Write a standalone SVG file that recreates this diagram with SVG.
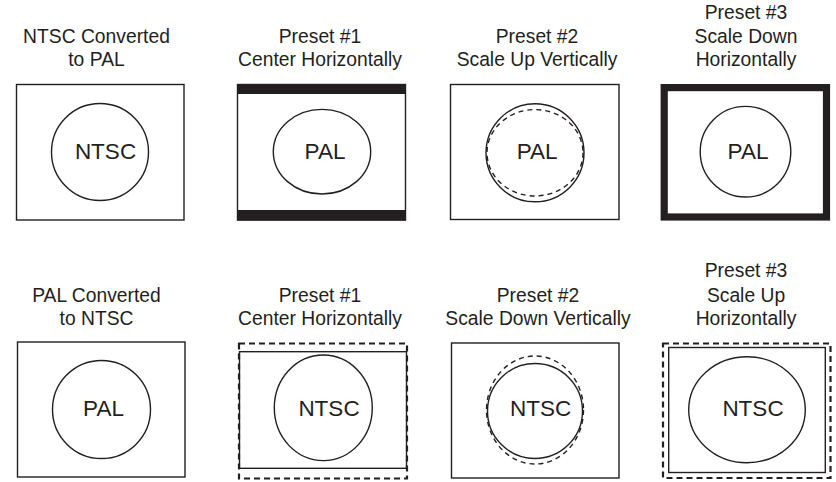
<svg xmlns="http://www.w3.org/2000/svg" width="836" height="482" viewBox="0 0 836 482">
<style>
.t{font-family:"Liberation Sans",Arial,Helvetica,sans-serif;font-size:19.3px;fill:#231f20;text-anchor:middle}
.l{font-family:"Liberation Sans",Arial,Helvetica,sans-serif;font-size:22.5px;fill:#231f20;text-anchor:middle}
.s{fill:none;stroke:#231f20;stroke-width:1.4}
.d{fill:none;stroke:#231f20;stroke-width:1.4;stroke-dasharray:5 4}
.dd{fill:none;stroke:#231f20;stroke-width:2.2;stroke-dasharray:6 4}
.bar{fill:#231f20}
</style>
<rect width="836" height="482" fill="#fff"/>
<g id="ntsc-to-pal">
<text class="t" x="96.5" y="42.5">NTSC Converted</text>
<text class="t" x="96.5" y="65.5">to PAL</text>
<rect class="s" x="16.5" y="84.5" width="167.5" height="135.5"/>
<circle class="s" cx="100" cy="152" r="48.5"/>
<text class="l" x="105.5" y="158.5">NTSC</text>
</g>
<g id="pal-preset1">
<text class="t" x="320" y="42.5">Preset #1</text>
<text class="t" x="320" y="66">Center Horizontally</text>
<rect class="s" x="237.5" y="84.5" width="168" height="135.5"/>
<rect class="bar" x="237" y="84" width="169" height="10"/>
<rect class="bar" x="237" y="210" width="169" height="10.5"/>
<ellipse class="s" cx="322" cy="151.7" rx="48.7" ry="42.3"/>
<text class="l" x="325" y="158.5">PAL</text>
</g>
<g id="pal-preset2">
<text class="t" x="537" y="42.5">Preset #2</text>
<text class="t" x="537" y="66">Scale Up Vertically</text>
<rect class="s" x="450.5" y="84.5" width="168.5" height="135"/>
<ellipse class="d" cx="535" cy="152.8" rx="48" ry="43.2"/>
<circle class="s" cx="535" cy="152.8" r="49"/>
<text class="l" x="537.2" y="158.5">PAL</text>
</g>
<g id="pal-preset3">
<text class="t" x="746" y="19">Preset #3</text>
<text class="t" x="746" y="42.5">Scale Down</text>
<text class="t" x="746" y="66">Horizontally</text>
<rect fill="none" stroke="#231f20" stroke-width="7.2" x="664.2" y="87.6" width="162.3" height="129.4"/>
<circle class="s" cx="745.5" cy="151.7" r="45.3"/>
<text class="l" x="748" y="158.5">PAL</text>
</g>
<g id="pal-to-ntsc">
<text class="t" x="96.5" y="301.5">PAL Converted</text>
<text class="t" x="96.5" y="324.5">to NTSC</text>
<rect class="s" x="17.5" y="342" width="167.5" height="135"/>
<circle class="s" cx="101.5" cy="409.5" r="49"/>
<text class="l" x="103.5" y="415.8">PAL</text>
</g>
<g id="ntsc-preset1">
<text class="t" x="320" y="301.5">Preset #1</text>
<text class="t" x="320" y="324.5">Center Horizontally</text>
<rect class="s" x="239.5" y="351.7" width="167" height="116.6"/>
<rect class="dd" x="239" y="343.5" width="168" height="135"/>
<ellipse class="s" cx="323.3" cy="407.8" rx="49" ry="52.8"/>
<text class="l" x="329" y="415.8">NTSC</text>
</g>
<g id="ntsc-preset2">
<text class="t" x="538" y="301.5">Preset #2</text>
<text class="t" x="538" y="324.5">Scale Down Vertically</text>
<rect class="s" x="451.5" y="343" width="167.5" height="135"/>
<ellipse class="d" cx="535" cy="410" rx="48.5" ry="54"/>
<circle class="s" cx="535" cy="411" r="47.5"/>
<text class="l" x="540.7" y="415.8">NTSC</text>
</g>
<g id="ntsc-preset3">
<text class="t" x="746" y="277">Preset #3</text>
<text class="t" x="746" y="301.5">Scale Up</text>
<text class="t" x="746" y="324.5">Horizontally</text>
<rect class="dd" x="663" y="343.5" width="167.5" height="134.5"/>
<rect class="s" x="668.7" y="347.5" width="156.6" height="125"/>
<ellipse class="s" cx="747" cy="409.7" rx="58.3" ry="53"/>
<text class="l" x="753" y="415.8">NTSC</text>
</g>
<g id="connectors"></g>
</svg>
